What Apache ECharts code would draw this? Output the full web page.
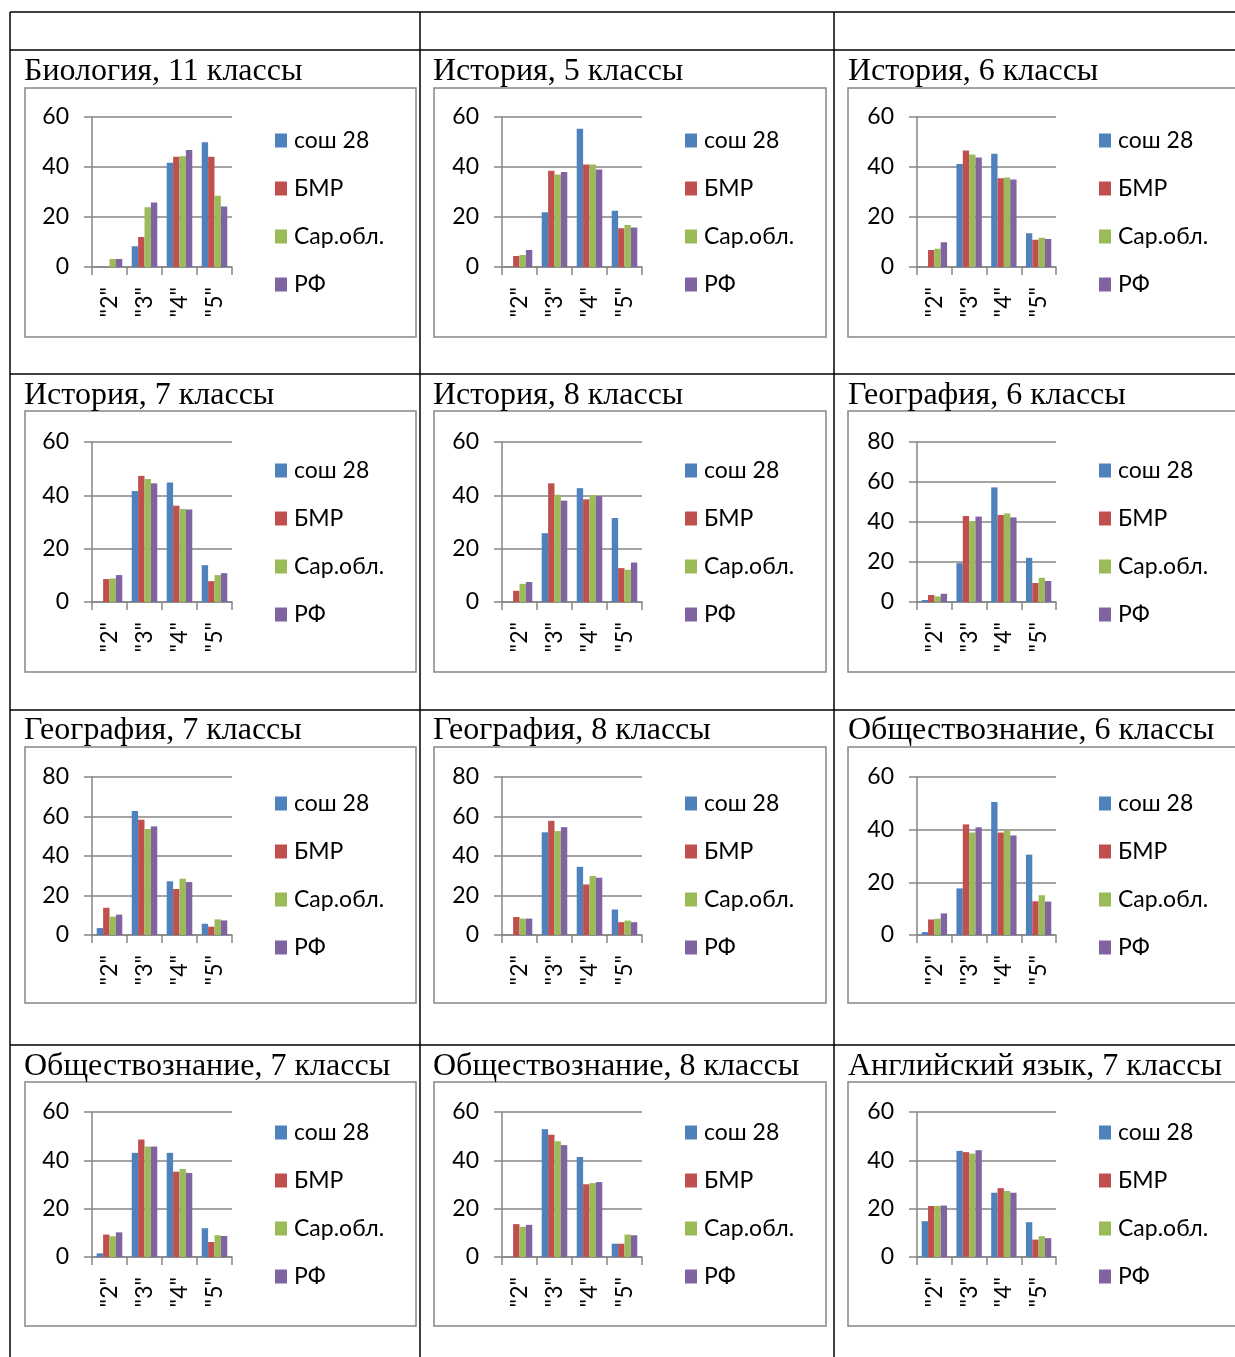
<!DOCTYPE html>
<html>
<head>
<meta charset="utf-8">
<script src="https://cdn.jsdelivr.net/npm/echarts@6/dist/echarts.min.js"></script>
<style>
  html, body { margin: 0; padding: 0; background: #fff; }
  #main { width: 1235px; height: 1357px; }
</style>
</head>
<body>
<div id="main"></div>
<script>
// данные
var categories = ['"2"', '"3"', '"4"', '"5"'];
var seriesNames = ['сош 28', 'БМР', 'Сар.обл.', 'РФ'];
var colors = ['#4F81BD', '#C0504D', '#9BBB59', '#8064A2'];

var titles = [
  'Биология, 11 классы', 'История, 5 классы', 'История, 6 классы',
  'История, 7 классы', 'История, 8 классы', 'География, 6 классы',
  'География, 7 классы', 'География, 8 классы', 'Обществознание, 6 классы',
  'Обществознание, 7 классы', 'Обществознание, 8 классы', 'Английский язык, 7 классы'
];
var yMax = [60, 60, 60, 60, 60, 80, 80, 80, 60, 60, 60, 60];

// по сериям: сош 28, БМР, Сар.обл., РФ
var bio11  = [[0, 8.3, 41.7, 49.9], [0, 12.0, 44.1, 44.1], [3.2, 23.9, 44.3, 28.5], [3.2, 25.8, 46.8, 24.2]];
var hist5  = [[0, 21.9, 55.3, 22.5], [4.4, 38.5, 41.0, 15.5], [4.8, 37.0, 41.0, 16.8], [6.8, 38.0, 39.0, 15.8]];
var hist6  = [[0, 41.2, 45.3, 13.5], [6.8, 46.6, 35.5, 10.9], [7.3, 45.0, 35.8, 11.7], [9.9, 43.8, 35.0, 11.2]];
var hist7  = [[0, 41.6, 44.8, 13.8], [8.6, 47.3, 36.1, 7.8], [8.8, 46.1, 34.9, 10.1], [10.1, 44.5, 34.7, 10.8]];
var hist8  = [[0, 25.8, 42.7, 31.5], [4.2, 44.5, 38.5, 12.7], [6.8, 40.2, 40.1, 12.1], [7.5, 38.0, 39.7, 14.8]];
var geo6   = [[1.0, 19.4, 57.3, 22.1], [3.5, 43.0, 43.5, 9.5], [2.8, 40.5, 44.3, 12.1], [4.1, 42.7, 42.3, 10.5]];
var geo7   = [[3.5, 62.8, 27.2, 5.7], [13.8, 58.4, 23.3, 4.2], [9.3, 53.7, 28.5, 7.9], [10.3, 55.0, 26.8, 7.4]];
var geo8   = [[0, 52.0, 34.5, 12.9], [9.1, 57.8, 25.6, 6.5], [8.3, 52.6, 29.9, 7.3], [8.3, 54.6, 29.0, 6.5]];
var soc6   = [[1.1, 17.7, 50.5, 30.5], [5.9, 42.0, 38.9, 12.8], [6.2, 38.9, 39.7, 15.1], [8.2, 40.9, 37.8, 12.7]];
var soc7   = [[1.5, 43.1, 43.1, 11.9], [9.3, 48.6, 35.3, 6.2], [8.6, 45.7, 36.4, 9.0], [10.2, 45.7, 34.8, 8.7]];
var soc8   = [[0, 52.9, 41.4, 5.5], [13.6, 50.6, 30.1, 5.5], [12.5, 47.9, 30.6, 9.3], [13.3, 46.3, 31.0, 9.0]];
var eng7   = [[14.8, 43.9, 26.6, 14.4], [21.1, 43.4, 28.5, 7.2], [21.1, 42.8, 27.3, 8.6], [21.3, 44.2, 26.6, 7.8]];
var panelData = [bio11, hist5, hist6, hist7, hist8, geo6, geo7, geo8, soc6, soc7, soc8, eng7];

// разметка
var cols = [
  { box: 25, boxW: 391, plot: 92, plotW: 140, legend: 275, title: 24 },
  { box: 434, boxW: 392, plot: 502, plotW: 140, legend: 685, title: 433 },
  { box: 848, boxW: 400, plot: 917, plotW: 139, legend: 1099, title: 848 }
];
var rows = [
  { box: 88, boxH: 249, plot: 117, plotH: 150, legend: 141, title: 72 },
  { box: 411, boxH: 261, plot: 442, plotH: 160, legend: 471, title: 396 },
  { box: 747, boxH: 256, plot: 777, plotH: 158, legend: 804, title: 731 },
  { box: 1082, boxH: 244, plot: 1112, plotH: 145, legend: 1133, title: 1067 }
];

var labelFont = 'Lato, "Open Sans", sans-serif';
var grids = [], xAxes = [], yAxes = [], series = [], legends = [], titleList = [];
var graphics = [];

// линии таблицы
var tableLines = [
  [10, 12, 1235, 12], [10, 50, 1235, 50], [10, 374, 1235, 374],
  [10, 710, 1235, 710], [10, 1045, 1235, 1045],
  [10, 12, 10, 1357], [420, 12, 420, 1357], [834, 12, 834, 1357]
];
tableLines.forEach(function (l) {
  graphics.push({ type: 'line', shape: { x1: l[0], y1: l[1], x2: l[2], y2: l[3] },
    style: { stroke: '#000', lineWidth: 1.5 }, silent: true });
});

for (var i = 0; i < 12; i++) {
  var c = cols[i % 3], r = rows[Math.floor(i / 3)];
  graphics.push({ type: 'rect', shape: { x: c.box, y: r.box, width: c.boxW, height: r.boxH },
    style: { fill: 'none', stroke: '#868686', lineWidth: 1.5 }, silent: true, z: -1 });
  titleList.push({ text: titles[i], left: c.title - 5, top: r.title - 21,
    textStyle: { fontFamily: '"Liberation Serif", "Times New Roman", serif', fontSize: 32, fontWeight: 'normal', color: '#000' } });
  grids.push({ left: c.plot, top: r.plot, width: c.plotW, height: r.plotH });
  xAxes.push({
    type: 'category', gridIndex: i, data: categories,
    axisLine: { lineStyle: { color: '#868686', width: 1.5 } },
    axisTick: { show: true, length: 8, lineStyle: { color: '#868686', width: 1.5 } },
    axisLabel: { rotate: 90, margin: 20, fontSize: 23, fontFamily: labelFont, color: '#000' }
  });
  yAxes.push({
    type: 'value', gridIndex: i, min: 0, max: yMax[i], interval: 20,
    axisLine: { show: true, lineStyle: { color: '#868686', width: 1.5 } },
    axisTick: { show: true, length: 8, lineStyle: { color: '#868686', width: 1.5 } },
    splitLine: { lineStyle: { color: '#868686', width: 1.5 } },
    axisLabel: { margin: 23, fontSize: 23, fontFamily: labelFont, color: '#000' }
  });
  legends.push({
    orient: 'vertical', left: c.legend - 5, top: r.legend - 17, data: seriesNames,
    itemWidth: 12, itemHeight: 14, itemGap: 25, selectedMode: false,
    icon: 'rect',
    textStyle: { fontSize: 23, fontFamily: labelFont, color: '#000', lineHeight: 23, padding: [0, 0, 0, 2] }
  });
  for (var s = 0; s < 4; s++) {
    series.push({
      type: 'bar', name: seriesNames[s], xAxisIndex: i, yAxisIndex: i,
      data: panelData[i][s], barGap: '0%', barCategoryGap: '27%',
      itemStyle: { color: colors[s] }, animation: false
    });
  }
}

var chart = echarts.init(document.getElementById('main'));
chart.setOption({
  animation: false,
  color: colors,
  title: titleList,
  legend: legends,
  grid: grids,
  xAxis: xAxes,
  yAxis: yAxes,
  series: series,
  graphic: graphics
});
</script>
</body>
</html>
